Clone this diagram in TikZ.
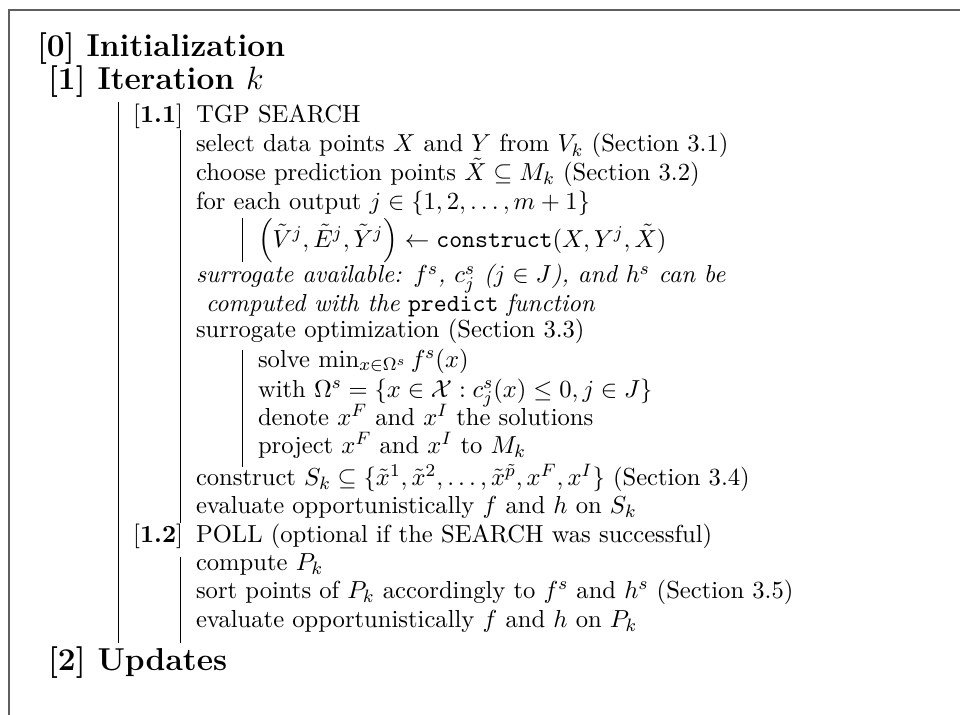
\documentclass[tikz,border=0pt]{standalone}
\usepackage{amsmath,amssymb}
\definecolor{framegray}{RGB}{95,95,95}
\newcommand{\normsz}{\fontsize{10.95}{13.6}\selectfont}
\newcommand{\headsz}{\fontsize{14.1}{17.5}\selectfont\bfseries}
\begin{document}
\begin{tikzpicture}[x=0.445pt,y=-0.445pt,
  txt/.style={anchor=base west,inner sep=0pt,outer sep=0pt,font=\normsz},
  lbl/.style={anchor=base east,inner sep=0pt,outer sep=0pt,font=\normsz},
  head/.style={anchor=base west,inner sep=0pt,outer sep=0pt,font=\headsz},
  bar/.style={line width=0.45pt,black},
  framel/.style={line width=0.8pt,framegray}]
\useasboundingbox (0,0) rectangle (960,715);
% frame
\coordinate (fbl) at (9.3,715);
\coordinate (ftl) at (9.3,10);
\coordinate (ftr) at (960,10);
\draw[framel] (fbl) -- (ftl) -- (ftr);
% headings
\node[head] (h0) at (37,57) {[0] Initialization};
\node[head] (h1) at (48,89.5) {[1] Iteration \mdseries$k$};
\node[head] (h2) at (48,670) {[2] Updates};
% labels
\node[lbl] (l11) at (183,123) {[\textbf{1.1}]};
\node[txt] (t11) at (196,123) {TGP SEARCH};
\node[txt] (s1) at (196,152) {select data points $X$ and $Y$ from $V_k$ (Section 3.1)};
\node[txt] (s2) at (196,180.5) {choose prediction points $\tilde{X} \subseteq M_k$ (Section 3.2)};
\node[txt] (s3) at (196,210) {for each output $j \in \{1,2,\ldots,m+1\}$};
\node[txt] (s4) at (258,247) {$\left(\tilde{V}^j,\tilde{E}^j,\tilde{Y}^j\right) \leftarrow \texttt{construct}(X,Y^j,\tilde{X})$};
\node[txt] (s5) at (196,283) {\textit{surrogate available: $f^s$, $c_j^s$ ($j \in J$), and $h^s$\ can be}};
\node[txt] (s6) at (206,311) {\textit{computed with the} \texttt{predict} \textit{function}};
\node[txt] (s7) at (196,338) {surrogate optimization (Section 3.3)};
\node[txt] (s8) at (258,367) {solve $\min_{x\in\Omega^s} f^s(x)$};
\node[txt] (s9) at (258,397) {with $\Omega^s = \{x \in \mathcal{X} : c_j^s(x) \le 0, j \in J\}$};
\node[txt] (s10) at (258,425) {denote $x^F$ and $x^I$ the solutions};
\node[txt] (s11) at (258,453) {project $x^F$ and $x^I$ to $M_k$};
\node[txt] (s12) at (196,485) {construct $S_k \subseteq \{\tilde{x}^1,\tilde{x}^2,\ldots,\tilde{x}^{\tilde{p}},x^F,x^I\}$ (Section 3.4)};
\node[txt] (s13) at (196,513) {evaluate opportunistically $f$ and $h$ on $S_k$};
\node[lbl] (l12) at (183,542) {[\textbf{1.2}]};
\node[txt] (t12) at (196,542) {POLL (optional if the SEARCH was successful)};
\node[txt] (p1) at (196,570) {compute $P_k$};
\node[txt] (p2) at (196,598) {sort points of $P_k$ accordingly to $f^s$ and $h^s$ (Section 3.5)};
\node[txt] (p3) at (196,627) {evaluate opportunistically $f$ and $h$ on $P_k$};
% vertical bars
\coordinate (aT) at (118.5,101.7); \coordinate (aB) at (118.5,643);
\coordinate (b1T) at (180.8,130); \coordinate (b1B) at (180.8,523);
\coordinate (b2T) at (180.8,557); \coordinate (b2B) at (180.8,643);
\coordinate (c1T) at (242.7,218); \coordinate (c1B) at (242.7,262);
\coordinate (c2T) at (242.7,350); \coordinate (c2B) at (242.7,467);
\draw[bar] (aT) -- (aB);
\draw[bar] (b1T) -- (b1B);
\draw[bar] (b2T) -- (b2B);
\draw[bar] (c1T) -- (c1B);
\draw[bar] (c2T) -- (c2B);
\end{tikzpicture}
\end{document}
